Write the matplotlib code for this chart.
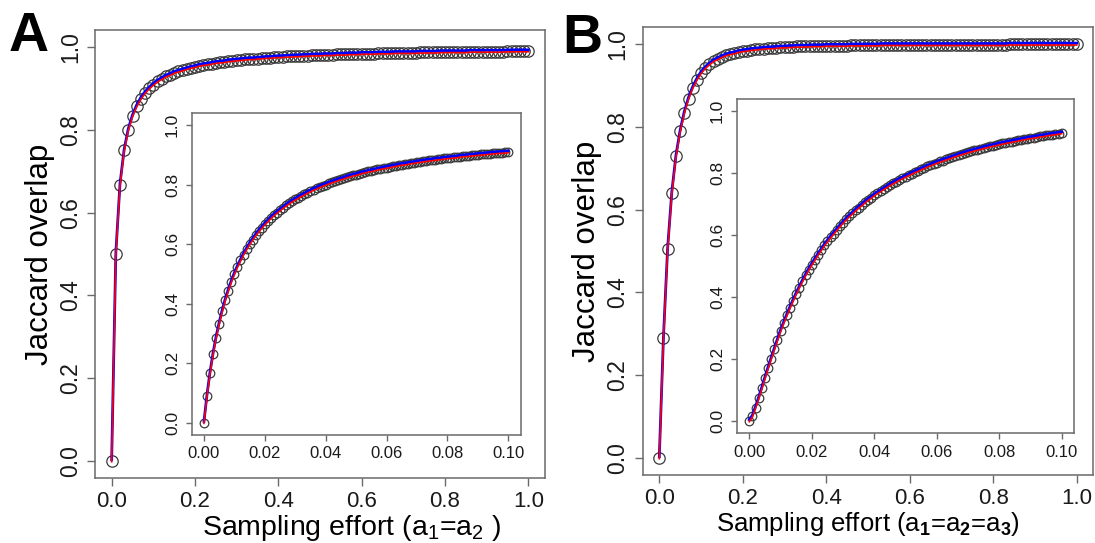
import numpy as np
import matplotlib
matplotlib.use("Agg")
import matplotlib.pyplot as plt
from matplotlib import transforms

plt.rcParams['font.family'] = ['Liberation Sans', 'DejaVu Sans']
plt.rcParams['mathtext.fontset'] = 'custom'
plt.rcParams['mathtext.rm'] = 'Liberation Sans'
plt.rcParams['mathtext.it'] = 'Liberation Sans'
plt.rcParams['mathtext.bf'] = 'Liberation Sans:bold'

# ---------------- data ----------------
# sampling effort levels: main panels 0..1 (step 0.01), insets 0..0.1 (step 0.001)
effort_main = np.arange(101) / 100.0
effort_inset = np.arange(101) / 1000.0

# Panel A (two samples) - main
jaccard_A_main = [
    0.000, 0.500, 0.667, 0.750, 0.800, 0.833, 0.857, 0.875, 0.889, 0.900,
    0.909, 0.917, 0.923, 0.929, 0.933, 0.938, 0.941, 0.944, 0.947, 0.950,
    0.952, 0.955, 0.957, 0.958, 0.960, 0.962, 0.963, 0.964, 0.966, 0.967,
    0.968, 0.969, 0.970, 0.971, 0.971, 0.972, 0.973, 0.974, 0.974, 0.975,
    0.976, 0.976, 0.977, 0.977, 0.978, 0.978, 0.979, 0.979, 0.980, 0.980,
    0.980, 0.981, 0.981, 0.981, 0.982, 0.982, 0.982, 0.983, 0.983, 0.983,
    0.984, 0.984, 0.984, 0.984, 0.985, 0.985, 0.985, 0.985, 0.986, 0.986,
    0.986, 0.986, 0.986, 0.986, 0.987, 0.987, 0.987, 0.987, 0.987, 0.988,
    0.988, 0.988, 0.988, 0.988, 0.988, 0.988, 0.989, 0.989, 0.989, 0.989,
    0.989, 0.989, 0.989, 0.989, 0.989, 0.990, 0.990, 0.990, 0.990, 0.990,
    0.990]

# Panel A - inset
jaccard_A_inset = [
    0.000, 0.091, 0.167, 0.231, 0.286, 0.333, 0.375, 0.412, 0.444, 0.474,
    0.500, 0.524, 0.545, 0.565, 0.583, 0.600, 0.615, 0.630, 0.643, 0.655,
    0.667, 0.677, 0.688, 0.697, 0.706, 0.714, 0.722, 0.730, 0.737, 0.744,
    0.750, 0.756, 0.762, 0.767, 0.773, 0.778, 0.783, 0.787, 0.792, 0.796,
    0.800, 0.804, 0.808, 0.811, 0.815, 0.818, 0.821, 0.825, 0.828, 0.831,
    0.833, 0.836, 0.839, 0.841, 0.844, 0.846, 0.848, 0.851, 0.853, 0.855,
    0.857, 0.859, 0.861, 0.863, 0.865, 0.867, 0.868, 0.870, 0.872, 0.873,
    0.875, 0.877, 0.878, 0.880, 0.881, 0.882, 0.884, 0.885, 0.886, 0.888,
    0.889, 0.890, 0.891, 0.892, 0.894, 0.895, 0.896, 0.897, 0.898, 0.899,
    0.900, 0.901, 0.902, 0.903, 0.904, 0.905, 0.906, 0.907, 0.907, 0.908,
    0.909]

# Panel B (three samples) - main
jaccard_B_main = [
    0.000, 0.290, 0.505, 0.640, 0.729, 0.789, 0.834, 0.868, 0.894, 0.914,
    0.930, 0.942, 0.951, 0.959, 0.964, 0.969, 0.973, 0.976, 0.978, 0.981,
    0.983, 0.984, 0.986, 0.987, 0.988, 0.989, 0.990, 0.990, 0.991, 0.992,
    0.992, 0.993, 0.993, 0.994, 0.994, 0.994, 0.995, 0.995, 0.995, 0.995,
    0.996, 0.996, 0.996, 0.996, 0.996, 0.996, 0.997, 0.997, 0.997, 0.997,
    0.997, 0.997, 0.997, 0.998, 0.998, 0.998, 0.998, 0.998, 0.998, 0.998,
    0.998, 0.998, 0.998, 0.998, 0.998, 0.998, 0.998, 0.998, 0.998, 0.998,
    0.998, 0.998, 0.998, 0.998, 0.998, 0.998, 0.998, 0.998, 0.998, 0.998,
    0.998, 0.998, 0.998, 0.998, 0.999, 0.999, 0.999, 0.999, 0.999, 0.999,
    0.999, 0.999, 0.999, 0.999, 0.999, 0.999, 0.999, 0.999, 0.999, 0.999,
    0.999]

# Panel B - inset
jaccard_B_inset = [
    0.000, 0.015, 0.043, 0.073, 0.105, 0.138, 0.170, 0.201, 0.231, 0.261,
    0.290, 0.316, 0.341, 0.365, 0.388, 0.410, 0.431, 0.451, 0.470, 0.488,
    0.505, 0.521, 0.537, 0.552, 0.567, 0.580, 0.593, 0.605, 0.617, 0.629,
    0.640, 0.651, 0.661, 0.670, 0.680, 0.689, 0.697, 0.706, 0.714, 0.721,
    0.729, 0.736, 0.742, 0.749, 0.755, 0.762, 0.768, 0.773, 0.779, 0.784,
    0.789, 0.794, 0.799, 0.804, 0.808, 0.813, 0.817, 0.822, 0.826, 0.830,
    0.834, 0.838, 0.841, 0.845, 0.848, 0.852, 0.855, 0.859, 0.862, 0.865,
    0.868, 0.871, 0.874, 0.876, 0.879, 0.882, 0.884, 0.887, 0.889, 0.891,
    0.894, 0.896, 0.898, 0.900, 0.902, 0.904, 0.906, 0.908, 0.910, 0.912,
    0.914, 0.915, 0.917, 0.919, 0.920, 0.922, 0.924, 0.925, 0.927, 0.928,
    0.930]

main_ticks = [0.0, 0.2, 0.4, 0.6, 0.8, 1.0]
main_ticklabels = ["0.0", "0.2", "0.4", "0.6", "0.8", "1.0"]
inset_xticks = [0.00, 0.02, 0.04, 0.06, 0.08, 0.10]
inset_xticklabels = ["0.00", "0.02", "0.04", "0.06", "0.08", "0.10"]

# ---------------- figure ----------------
W, H = 1095, 543
fig = plt.figure(figsize=(W / 100, H / 100), dpi=100)


def box(left, top, right, bottom):
    return [left / W, (H - bottom) / H, (right - left) / W, (bottom - top) / H]


SPINE = '#6a6a6a'


def style(ax, xt, xtl, yt, ytl, xfs, yfs, ticklen):
    for s in ax.spines.values():
        s.set_color(SPINE)
        s.set_linewidth(1.1)
    ax.set_xticks(xt)
    ax.set_xticklabels(xtl)
    ax.set_yticks(yt)
    ax.set_yticklabels(ytl, rotation=90, va='center')
    ax.tick_params(axis='both', direction='out', length=ticklen, width=1.0,
                   color=SPINE, labelcolor='#1a1a1a', pad=4)
    ax.tick_params(axis='x', labelsize=xfs)
    ax.tick_params(axis='y', labelsize=yfs)


def draw(ax, x, y, ms):
    ax.plot(x, y, 'o', mfc='none', mec='#3a3a3a', mew=0.9, ms=ms, zorder=2)
    up = ax.transData + transforms.ScaledTranslation(0, 0.9 / 72, fig.dpi_scale_trans)
    dn = ax.transData + transforms.ScaledTranslation(0, -0.5 / 72, fig.dpi_scale_trans)
    ax.plot(x, y, '-', color='#0000ff', lw=2.0, transform=up, zorder=3)
    ax.plot(x, y, '-', color='#ff0000', lw=1.2, transform=dn, zorder=4)


panels = [
    dict(main=box(95, 30.4, 545, 477.6), inset=box(191.8, 113.1, 520.5, 434.6),
         ymain=jaccard_A_main, yin=jaccard_A_inset,
         xlabel=r'Sampling effort (a$_{1}$=a$_{2}$ )', xlfs=20.5, xlx=0.57,
         letter='A', lx=9, ly=51),
    dict(main=box(642.6, 27.4, 1093.4, 474.6), inset=box(736.8, 98.9, 1074.2, 433.4),
         ymain=jaccard_B_main, yin=jaccard_B_inset,
         xlabel=r'Sampling effort (a$_{\mathbf{1}}$=a$_{\mathbf{2}}$=a$_{\mathbf{3}}$)',
         xlfs=18.5, xlx=0.5,
         letter='B', lx=562, ly=53),
]

for p in panels:
    ax = fig.add_axes(p['main'])
    draw(ax, effort_main, p['ymain'], 8.2)
    ax.set_xlim(-0.04, 1.04)
    ax.set_ylim(-0.04, 1.04)
    style(ax, main_ticks, main_ticklabels, main_ticks, main_ticklabels, 16, 16.5, 5.5)
    ax.set_xlabel(p['xlabel'], fontsize=p['xlfs'], labelpad=1, x=p['xlx'])
    ax.set_ylabel('Jaccard overlap', fontsize=22.5, labelpad=3)

    axi = fig.add_axes(p['inset'])
    draw(axi, effort_inset, p['yin'], 6.2)
    axi.set_xlim(-0.004, 0.104)
    axi.set_ylim(-0.04, 1.04)
    style(axi, inset_xticks, inset_xticklabels, main_ticks, main_ticklabels, 12, 12.5, 4.5)

    fig.text(p['lx'] / W, 1 - p['ly'] / H, p['letter'], fontsize=40,
             fontweight='bold', ha='left', va='baseline')

fig.savefig('out.png', dpi=100, facecolor='white')
